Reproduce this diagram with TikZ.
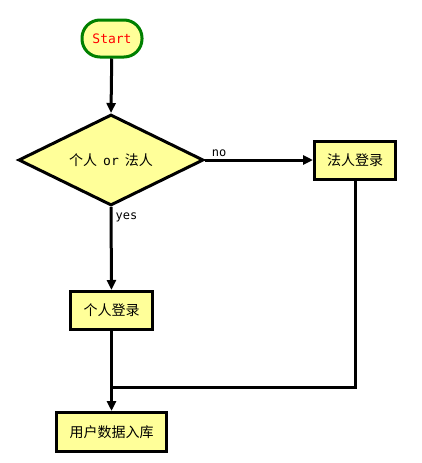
\documentclass[tikz,border=0pt]{standalone}
\usepackage{fontspec}
\newfontfamily\cjk{Noto Sans CJK SC}
\newfontfamily\mono{DejaVu Sans Mono}
\usetikzlibrary{shapes.geometric,arrows.meta}
\definecolor{boxfill}{HTML}{FFFF99}
\definecolor{startgreen}{HTML}{008000}
\begin{document}
\begin{tikzpicture}[x=1pt,y=-1pt,
  every node/.style={inner sep=0pt},
  boxnode/.style={draw=black,line width=3pt,fill=boxfill,minimum height=38pt,font=\cjk\fontsize{14}{16}\selectfont},
  link/.style={line width=3pt,draw=black},
  arr/.style={link,-{Triangle[length=10pt,width=9pt]}},
  lbl/.style={font=\mono\fontsize{12}{14}\selectfont}]
\useasboundingbox (0,0) rectangle (421,463);
\node[draw=startgreen,line width=3pt,fill=boxfill,rounded corners=18pt,minimum width=60pt,minimum height=37pt,font=\mono\fontsize{13}{15}\selectfont,text=red] (start) at (112,38.5) {Start};
\node[diamond,aspect=2,draw=black,line width=3pt,fill=boxfill,minimum width=185pt,minimum height=91pt,inner sep=0pt] (dec) at (111,160) {};
\node[font=\cjk\fontsize{14}{16}\selectfont] (dectext) at (111,160) {个人\hspace{6pt}{\mono\fontsize{13}{15}\selectfont or}\hspace{6pt}法人};
\node[boxnode,minimum width=81pt] (legal) at (355,160) {法人登录};
\node[boxnode,minimum width=82pt] (person) at (111.5,310.5) {个人登录};
\node[boxnode,minimum width=110pt,minimum height=39pt] (store) at (111.5,432) {用户数据入库};
\coordinate (join) at (111.5,387);
\draw[arr] (start) -- (dec.north);
\draw[arr] (dec.east) -- node[lbl,above,pos=0.13,yshift=2pt] {no} (legal.west);
\draw[arr] (dec.south) -- node[lbl,right,pos=0.12,xshift=3pt] {yes} (person.north);
\draw[link] (person.south) -- (join);
\draw[arr] (join) -- (store.north);
\draw[link,line join=miter] (legal.south) |- (join);
\end{tikzpicture}
\end{document}
